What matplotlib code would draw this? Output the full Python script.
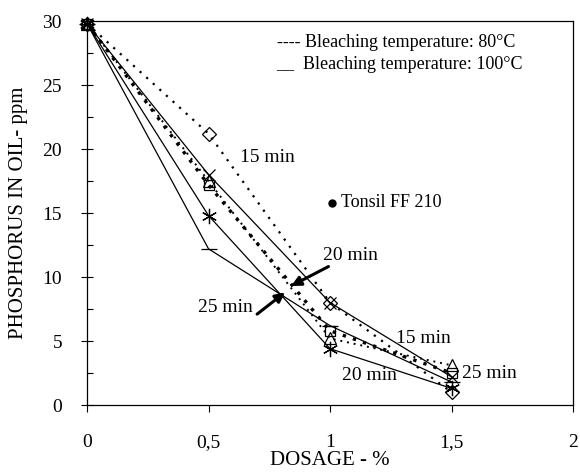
import matplotlib
matplotlib.use('Agg')
import matplotlib.pyplot as plt
from matplotlib.ticker import MultipleLocator

plt.rcParams['font.family'] = ['Liberation Serif', 'DejaVu Serif']

# dosage (%) and residual phosphorus (ppm)
dosage = [0, 0.5, 1.0, 1.5]
p80_15 = [29.8, 21.2, 8.0, 1.0]
p80_20 = [29.8, 17.2, 5.8, 2.5]
p80_25 = [29.8, 17.5, 5.2, 3.1]
p100_15 = [29.8, 18.0, 8.0, 2.2]
p100_20 = [29.8, 14.8, 4.4, 1.3]
p100_25 = [29.8, 12.2, 6.2, 1.8]
tonsil_x = [1.01]
tonsil_y = [15.8]

xticks = [0, 0.5, 1, 1.5, 2]
xticklabels = ['0', '0,5', '1', '1,5', '2']

fig = plt.figure(figsize=(5.8, 4.72), dpi=100)
ax = fig.add_axes([87 / 580, 1 - 405 / 472, (573 - 87) / 580, (405 - 21) / 472])

hollow = dict(markerfacecolor='none', markeredgecolor='black', markeredgewidth=0.9,
              color='black', clip_on=False)

ax.plot(dosage, p80_15, linestyle=(0, (1, 3)), lw=1.6, marker='D', ms=7, **hollow)
ax.plot(dosage, p80_20, linestyle=(0, (1, 2.2)), lw=2.4, marker='s', ms=7, **hollow)
ax.plot(dosage, p80_25, linestyle=(0, (1, 2.5)), lw=1.4, marker='^', ms=8, **hollow)
ax.plot(dosage, p100_15, linestyle='-', lw=0.9, marker='x', ms=9, **hollow)
ax.plot(dosage, p100_20, linestyle='-', lw=0.9, marker=(6, 2, 0), ms=11, **hollow)
ax.plot(dosage, p100_25, linestyle='-', lw=0.9, marker='_', ms=12, **hollow)

ax.plot(tonsil_x, tonsil_y, 'o', color='black', ms=5)
ax.text(tonsil_x[0] + 0.035, tonsil_y[0], 'Tonsil FF 210', fontsize=13, va='center')

# curve labels
fs = 14
ax.text(0.63, 19.3, '15 min', fontsize=fs, va='center')
ax.text(1.27, 5.2, '15 min', fontsize=fs, va='center')
ax.text(1.05, 2.3, '20 min', fontsize=fs, va='center')
ax.text(1.545, 2.5, '25 min', fontsize=fs, va='center')

arrow = dict(arrowstyle='-|>', lw=2.2, color='black', mutation_scale=14, shrinkA=0, shrinkB=0)
ax.annotate('20 min', xy=(0.84, 9.3), xytext=(0.97, 11.7), fontsize=fs,
            va='center', ha='left', arrowprops=arrow)
ax.annotate('', xy=(0.815, 8.8), xytext=(0.70, 7.1), arrowprops=arrow)
ax.text(0.455, 7.6, '25 min', fontsize=fs, va='center')

# legend written as text
ax.text(0.78, 28.3, '---- Bleaching temperature: 80\u00b0C', fontsize=13, va='center')
ax.text(0.78, 26.6, '__  Bleaching temperature: 100\u00b0C', fontsize=13, va='center')

ax.set_xlim(0, 2)
ax.set_ylim(0, 30)
ax.set_xticks(xticks)
ax.set_xticklabels(xticklabels)
ax.yaxis.set_major_locator(MultipleLocator(5))
ax.yaxis.set_minor_locator(MultipleLocator(2.5))
ax.tick_params(axis='x', direction='out', length=5, width=0.8, pad=16, labelsize=14)
ax.tick_params(axis='y', which='major', direction='inout', length=8, width=0.8, pad=14, labelsize=14)
ax.tick_params(axis='y', which='minor', direction='in', length=4, width=0.8)
for s in ax.spines.values():
    s.set_linewidth(0.9)

ax.set_xlabel('DOSAGE - %', fontsize=15, labelpad=0)
ax.set_ylabel('PHOSPHORUS IN OIL- ppm', fontsize=15, labelpad=10)

fig.savefig('out.png', dpi=100)
